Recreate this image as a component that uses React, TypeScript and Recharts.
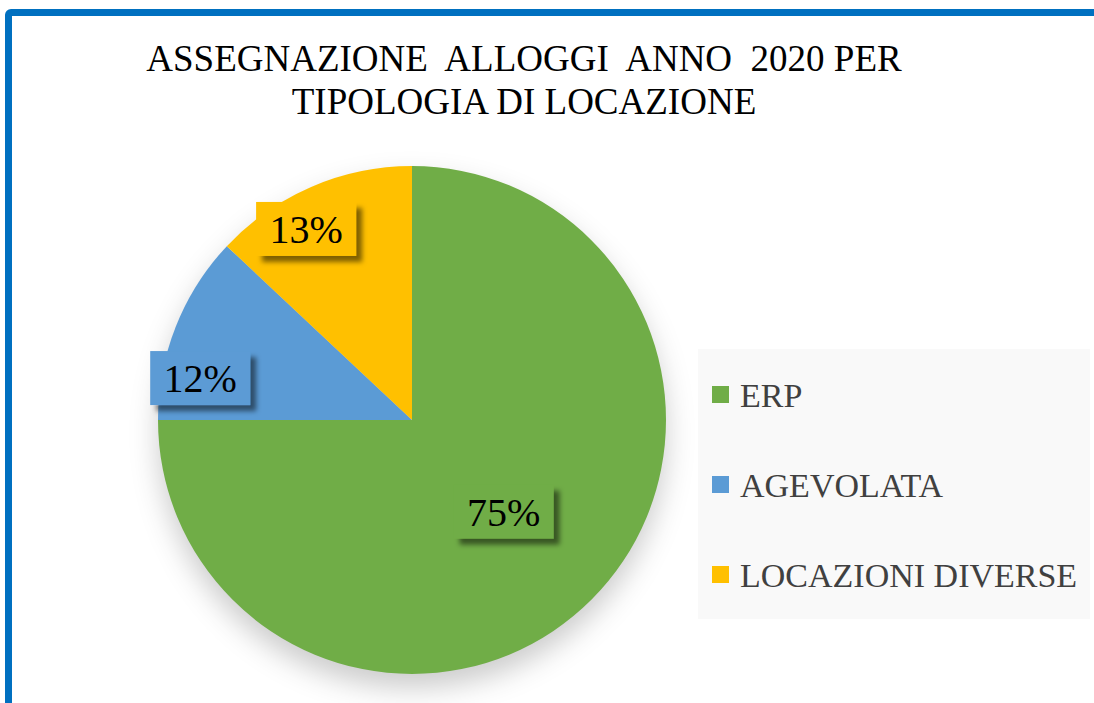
import { Cell, Legend, Pie, PieChart } from "recharts"

const categories = ["ERP", "AGEVOLATA", "LOCAZIONI DIVERSE"]
const shares = [75, 12, 13]
const colors = ["#70AD47", "#5B9BD5", "#FFC000"]
const titleLines = ["ASSEGNAZIONE  ALLOGGI  ANNO  2020 PER", "TIPOLOGIA DI LOCAZIONE"]

const data = categories.map((name, i) => ({ name, value: shares[i] }))

// excel "best fit" label placement, per slice
const labelRadius = [0.51, 0.85, 0.86]
const labelTurn = [0, 10.4, 5.6]

const RAD = Math.PI / 180
const serif = "'Liberation Serif', 'Times New Roman', serif"

function renderLabel(props: any) {
  const { cx, cy, midAngle, outerRadius, index, value } = props
  const a = (midAngle + labelTurn[index]) * RAD
  const r = outerRadius * labelRadius[index]
  const x = cx + r * Math.cos(a)
  const y = cy - r * Math.sin(a)
  const w = 100
  const h = 54
  return (
    <g>
      <rect
        x={x - w / 2}
        y={y - h / 2}
        width={w}
        height={h}
        fill={colors[index]}
        filter="url(#labelShadow)"
      />
      <text
        x={x}
        y={y + 14}
        textAnchor="middle"
        style={{ fontFamily: serif, fontSize: 40, fill: "#000" }}
      >
        {value}%
      </text>
    </g>
  )
}

function LegendBox() {
  return (
    <div
      style={{
        background: "#F9F9F9",
        width: 392,
        height: 270,
        display: "flex",
        flexDirection: "column",
        justifyContent: "center",
      }}
    >
      {categories.map((name, i) => (
        <div key={name} style={{ height: 90, display: "flex", alignItems: "center", paddingLeft: 14 }}>
          <span style={{ width: 17, height: 17, background: colors[i], display: "inline-block", marginRight: 11 }} />
          <span style={{ fontFamily: serif, fontSize: 34, color: "#404040", lineHeight: "34px", marginTop: 4 }}>
            {name}
          </span>
        </div>
      ))}
    </div>
  )
}

export default function App() {
  return (
    <div
      style={{
        position: "absolute",
        left: 0,
        top: 0,
        width: 1094,
        height: 703,
        overflow: "hidden",
        background: "#fff",
      }}
    >
      <style>{`.pie-glow { filter: url(#pieGlow); }`}</style>
      <svg width={0} height={0} style={{ position: "absolute" }}>
        <defs>
          <filter id="pieGlow" x="-30%" y="-30%" width="160%" height="160%">
            <feGaussianBlur in="SourceAlpha" stdDeviation="10" />
            <feOffset dx="0" dy="7" result="b" />
            <feFlood floodColor="#000" floodOpacity="0.45" />
            <feComposite in2="b" operator="in" />
          </filter>
          <filter id="labelShadow" x="-30%" y="-30%" width="160%" height="160%">
            <feDropShadow dx="6" dy="6" stdDeviation="2.5" floodColor="#000" floodOpacity="0.5" />
          </filter>
        </defs>
      </svg>
      <div
        style={{
          position: "absolute",
          left: 5,
          top: 9,
          width: 1120,
          height: 740,
          border: "7px solid #0070C0",
          borderRadius: 6,
          boxSizing: "border-box",
        }}
      />
      {titleLines.map((t, i) => (
        <div
          key={i}
          style={{
            position: "absolute",
            left: 0,
            width: 1048,
            top: 37 + i * 43,
            textAlign: "center",
            fontFamily: serif,
            fontSize: 37,
            lineHeight: "43px",
            whiteSpace: "pre",
            color: "#000",
          }}
        >
          {t}
        </div>
      ))}
      <div style={{ position: "absolute", left: 0, top: 0 }}>
        <PieChart width={1094} height={703} margin={{ top: 0, right: 0, bottom: 0, left: 0 }}>
          <Pie
            className="pie-glow"
            data={data}
            dataKey="value"
            nameKey="name"
            cx={412}
            cy={420}
            outerRadius={254}
            startAngle={90}
            endAngle={-270}
            stroke="none"
            legendType="none"
            label={false}
            isAnimationActive={false}
          >
            {data.map((d) => (
              <Cell key={d.name} fill="#999" />
            ))}
          </Pie>
          <Pie
            data={data}
            dataKey="value"
            nameKey="name"
            cx={412}
            cy={420}
            outerRadius={254}
            startAngle={90}
            endAngle={-270}
            stroke="none"
            label={renderLabel}
            labelLine={false}
            isAnimationActive={false}
          >
            {data.map((d, i) => (
              <Cell key={d.name} fill={colors[i]} />
            ))}
          </Pie>
          <Legend
            content={<LegendBox />}
            wrapperStyle={{ position: "absolute", left: 698, top: 349, width: 392, height: 270 }}
          />
        </PieChart>
      </div>
    </div>
  )
}
